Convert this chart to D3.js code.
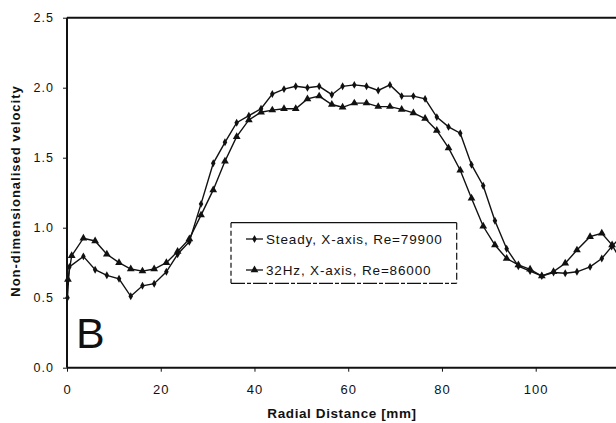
<!DOCTYPE html>
<html><head><meta charset="utf-8">
<script src="https://cdn.jsdelivr.net/npm/d3@7"></script>
<style>
html,body{margin:0;padding:0;background:#fff;}
svg{display:block;}
text{font-family:"Liberation Sans",Arial,sans-serif;fill:#111;}
</style></head>
<body>
<svg id="chart" width="616" height="423"></svg>
<script>
// Data
const steadyX = [0.1,0.5,3.5,6.0,8.5,11.1,13.6,16.1,18.6,21.2,23.6,26.1,28.6,31.2,33.7,36.2,38.8,41.4,43.8,46.3,48.8,51.3,53.8,56.5,58.8,61.3,63.9,66.4,68.9,71.4,73.9,76.4,78.9,81.4,83.9,86.3,88.8,91.3,93.8,96.3,98.8,101.3,103.8,106.3,108.8,111.6,114.1,116.2,118.6];
const steadyV = [0.50,0.72,0.795,0.70,0.66,0.635,0.51,0.585,0.60,0.685,0.81,0.90,1.17,1.46,1.61,1.75,1.80,1.85,1.955,1.99,2.01,2.00,2.01,1.95,2.01,2.02,2.01,1.98,2.02,1.94,1.94,1.92,1.79,1.72,1.675,1.45,1.30,1.05,0.85,0.725,0.69,0.655,0.68,0.675,0.685,0.72,0.78,0.865,0.95];
const pulsedX = [0.2,1.0,3.5,6.0,8.5,11.1,13.6,16.1,18.6,21.2,23.6,26.1,28.6,31.2,33.7,36.2,38.8,41.4,43.8,46.3,48.8,51.3,53.8,56.5,58.8,61.3,63.9,66.4,68.9,71.4,73.9,76.4,78.9,81.4,83.9,86.3,88.8,91.3,93.8,96.3,98.8,101.3,103.8,106.3,108.8,111.6,114.1,116.3,118.6];
const pulsedV = [0.63,0.80,0.925,0.905,0.81,0.75,0.705,0.69,0.705,0.75,0.83,0.92,1.09,1.27,1.475,1.65,1.77,1.825,1.84,1.85,1.85,1.92,1.94,1.88,1.86,1.89,1.89,1.865,1.865,1.845,1.82,1.78,1.695,1.57,1.41,1.21,1.01,0.876,0.78,0.734,0.703,0.655,0.686,0.746,0.84,0.936,0.96,0.876,0.74];
const seriesNames = ["Steady, X-axis, Re=79900","32Hz, X-axis, Re=86000"];
const xTicks = [0,20,40,60,80,100];
const yTicks = [0.0,0.5,1.0,1.5,2.0,2.5];
const xTitle = "Radial Distance [mm]";
const yTitle = "Non-dimensionalised velocity";
const panelLabel = "B";

const svg = d3.select("#chart");
const X0 = 67, X1 = 616, Y0 = 367.7, Y1 = 17.7;
const x = d3.scaleLinear().domain([0, 117.13]).range([X0, X1]);
const y = d3.scaleLinear().domain([0, 2.5]).range([Y0, Y1]);

// axes
const gx = svg.append("g").attr("transform", `translate(0,${Y0})`)
  .call(d3.axisBottom(x).tickValues(xTicks).tickSize(4).tickPadding(13).tickFormat(d3.format("d")));
gx.select(".domain").remove();
gx.selectAll("text").style("font-size","13px").style("letter-spacing","1px").attr("fill","#111");
gx.selectAll("line").attr("stroke","#111");

const gy = svg.append("g").attr("transform", `translate(${X0},0)`)
  .call(d3.axisLeft(y).tickValues(yTicks).tickSize(4).tickPadding(9).tickFormat(d3.format(".1f")));
gy.select(".domain").remove();
gy.selectAll("text").style("font-size","12.5px").style("letter-spacing","1px").attr("fill","#111");
gy.selectAll("line").attr("stroke","#111");

// frame lines
svg.append("line").attr("x1",X0).attr("x2",X1).attr("y1",Y0).attr("y2",Y0).attr("stroke","#111").attr("stroke-width",2);
svg.append("line").attr("x1",X0).attr("x2",X1).attr("y1",Y1).attr("y2",Y1).attr("stroke","#111").attr("stroke-width",2);
svg.append("line").attr("x1",X0).attr("x2",X0).attr("y1",Y1).attr("y2",Y0).attr("stroke","#111").attr("stroke-width",2);

// titles
svg.append("text").attr("x", 342).attr("y", 418).attr("text-anchor","middle")
  .style("font-size","13.5px").style("font-weight","bold").style("letter-spacing","0.6px").text(xTitle);
svg.append("text").attr("transform","translate(20,191) rotate(-90)").attr("text-anchor","middle")
  .style("font-size","13px").style("font-weight","bold").style("letter-spacing","1px").text(yTitle);

// panel label
svg.append("text").attr("x", 76).attr("y", 348).style("font-size","43px").text(panelLabel);

// series
const line = d3.line().x(d => x(d[0])).y(d => y(d[1]));
const steady = steadyX.map((v,i) => [v, steadyV[i]]);
const pulsed = pulsedX.map((v,i) => [v, pulsedV[i]]);

const diamond = d3.symbol().type(d3.symbolDiamond).size(18);
const tri = d3.symbol().type(d3.symbolTriangle).size(26);

function drawSeries(data, sym) {
  svg.append("path").datum(data).attr("d", line).attr("fill","none").attr("stroke","#111").attr("stroke-width",1.4);
  svg.append("g").selectAll("path").data(data).join("path")
    .attr("transform", d => `translate(${x(d[0])},${y(d[1])})`).attr("d", sym).attr("fill","#111");
}
drawSeries(steady, diamond);
drawSeries(pulsed, tri);

// legend
const L = {x0:231, x1:456.7, y0:222.7, y1:283.3};
const lg = svg.append("g");
lg.append("line").attr("x1",L.x0).attr("x2",L.x1).attr("y1",L.y0).attr("y2",L.y0).attr("stroke","#111").attr("stroke-width",1.2);
lg.append("line").attr("x1",L.x0).attr("x2",L.x1).attr("y1",L.y1).attr("y2",L.y1).attr("stroke","#111").attr("stroke-width",1.2).attr("stroke-dasharray","14,2,4,2");
lg.append("line").attr("x1",L.x0).attr("x2",L.x0).attr("y1",L.y0).attr("y2",L.y1).attr("stroke","#111").attr("stroke-width",1.2).attr("stroke-dasharray","5,3");
lg.append("line").attr("x1",L.x1).attr("x2",L.x1).attr("y1",L.y0).attr("y2",L.y1).attr("stroke","#111").attr("stroke-width",1.2).attr("stroke-dasharray","7,3");
const rows = [239, 270];
[diamond, tri].forEach((sym, i) => {
  lg.append("line").attr("x1",246).attr("x2",263).attr("y1",rows[i]).attr("y2",rows[i]).attr("stroke","#111").attr("stroke-width",1.3);
  lg.append("path").attr("transform",`translate(254.5,${rows[i]})`).attr("d", sym).attr("fill","#111");
  lg.append("text").attr("x",266).attr("y",rows[i]).attr("dy","0.36em")
    .style("font-size","13.5px").style("letter-spacing","0.85px").text(seriesNames[i]);
});
</script>
</body></html>
